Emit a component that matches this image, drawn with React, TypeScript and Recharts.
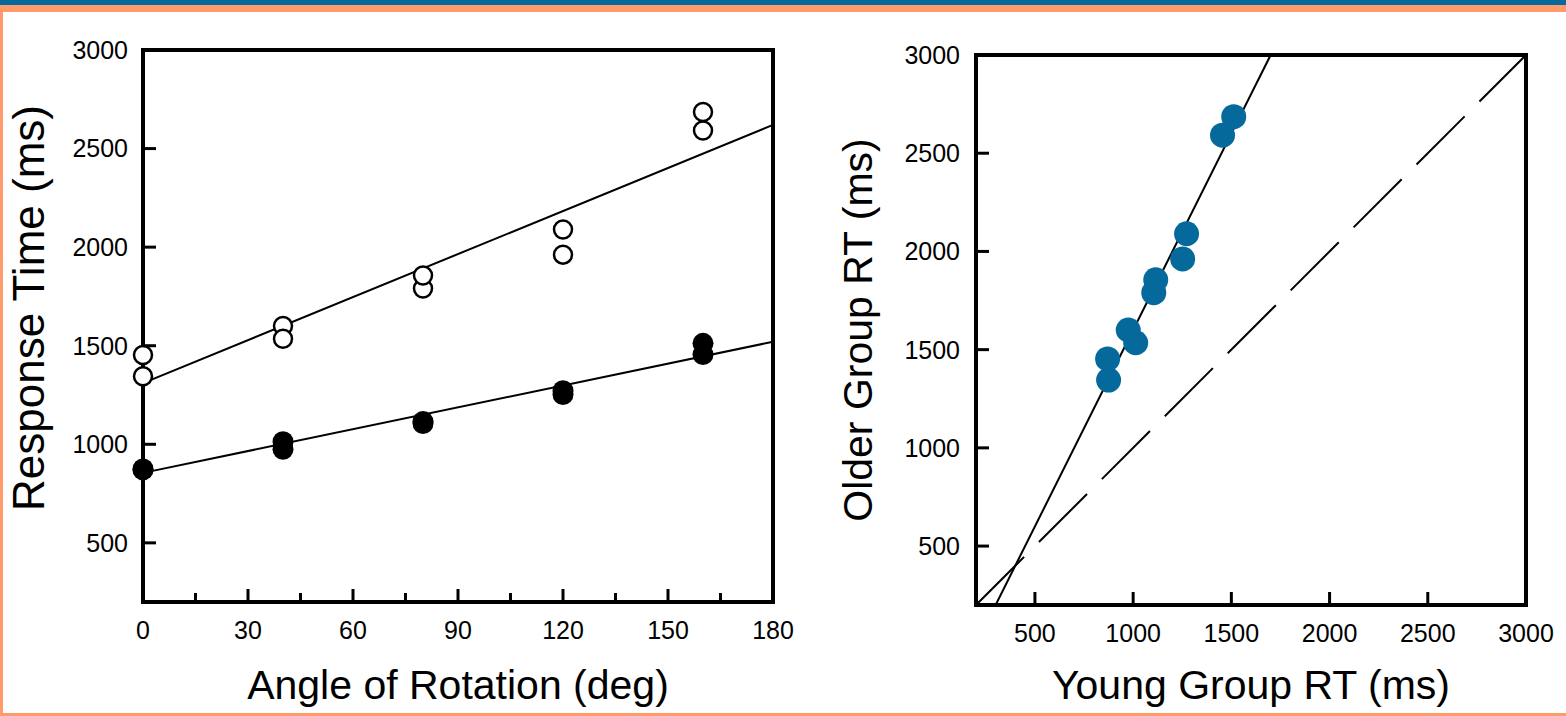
import { ReferenceArea, Scatter, ScatterChart, XAxis, YAxis } from "recharts"

const FONT = "'Liberation Sans', Arial, Helvetica, sans-serif"

// one entry per condition: angle, young mean RT, older mean RT
const angles = [0, 0, 40, 40, 80, 80, 120, 120, 160, 160]
const youngRT = [875, 870, 975, 1013, 1105, 1115, 1252, 1272, 1455, 1512]
const olderRT = [1345, 1453, 1600, 1535, 1790, 1856, 1962, 2090, 2592, 2686]

// fitted lines in the left panel
const fitAngles = [0, 180]
const olderFit = [1310, 2620]
const youngFit = [855, 1520]

// right panel: regression of older on young, and the identity line
const brinleyYoung = [300, 1700]
const brinleyOlder = [200, 3000]
const identity = [200, 3000]

const angleTicks = [0, 15, 30, 45, 60, 75, 90, 105, 120, 135, 150, 165, 180]
const rtTicks = [500, 1000, 1500, 2000, 2500, 3000]
const youngTicks = [500, 1000, 1500, 2000, 2500, 3000]

const zip = (xs: number[], ys: number[]) => xs.map((x, i) => ({ x, y: ys[i] }))

const leftOlder = zip(angles, olderRT)
const leftYoung = zip(angles, youngRT)
const leftOlderFit = zip(fitAngles, olderFit)
const leftYoungFit = zip(fitAngles, youngFit)
const rightPoints = zip(youngRT, olderRT)
const rightFit = zip(brinleyYoung, brinleyOlder)
const rightIdentity = zip(identity, identity)

const BLUE = "#05699c"
const ORANGE = "#ff9a6a"

function BottomTick(props: any) {
  const { x, y, payload, labelEvery } = props
  const v = payload.value
  const major = !labelEvery || v % labelEvery === 0
  return (
    <g>
      <line x1={x} x2={x} y1={y} y2={y - (major ? 13 : 9)} stroke="#000" strokeWidth={3} />
      {major && (
        <text x={x} y={y + 19} dy="0.71em" textAnchor="middle" fontSize={25} fontFamily={FONT} fill="#000">
          {v}
        </text>
      )}
    </g>
  )
}

function LeftTick(props: any) {
  const { x, y, payload, gap } = props
  return (
    <g>
      <line x1={x} x2={x + 13} y1={y} y2={y} stroke="#000" strokeWidth={3} />
      <text x={x - gap} y={y} dy="0.355em" textAnchor="end" fontSize={25} fontFamily={FONT} fill="#000">
        {payload.value}
      </text>
    </g>
  )
}

const xTitle = (text: string, down: number) => (p: any) => {
  const vb = p.viewBox
  return (
    <text x={vb.x + vb.width / 2} y={vb.y + down} textAnchor="middle" fontSize={41} fontFamily={FONT} fill="#000">
      {text}
    </text>
  )
}

const yTitle = (text: string, cx: number, shift: number, size: number) => (p: any) => {
  const vb = p.viewBox
  const x = vb.x + cx
  const y = vb.y + vb.height / 2 + shift
  return (
    <text
      x={x}
      y={y}
      dy="0.355em"
      transform={`rotate(-90, ${x}, ${y})`}
      textAnchor="middle"
      fontSize={size}
      fontFamily={FONT}
      fill="#000"
    >
      {text}
    </text>
  )
}

const openDot = (p: any) => <circle cx={p.cx} cy={p.cy} r={9} fill="#fff" stroke="#000" strokeWidth={2.5} />
const filledDot = (p: any) => <circle cx={p.cx} cy={p.cy} r={10.5} fill="#000" />
const blueDot = (p: any) => <circle cx={p.cx} cy={p.cy} r={12.5} fill={BLUE} />
const noDot = () => <g />

function AngleChart() {
  return (
    <ScatterChart width={800} height={716} margin={{ top: 50, right: 27, bottom: 0, left: 0 }}>
      <XAxis
        type="number"
        dataKey="x"
        domain={[0, 180]}
        ticks={angleTicks}
        interval={0}
        axisLine={false}
        tickLine={false}
        tickSize={0}
        tickMargin={0}
        height={114}
        tick={(p: any) => <BottomTick {...p} labelEvery={30} />}
        label={xTitle("Angle of Rotation (deg)", 97)}
      />
      <YAxis
        type="number"
        dataKey="y"
        domain={[200, 3000]}
        ticks={rtTicks}
        interval={0}
        axisLine={false}
        tickLine={false}
        tickSize={0}
        tickMargin={0}
        width={143}
        tick={(p: any) => <LeftTick {...p} gap={15} />}
        label={yTitle("Response Time (ms)", 28, -18, 44)}
      />
      <ReferenceArea x1={0} x2={180} y1={200} y2={3000} fill="none" stroke="#000" strokeWidth={4} />
      <Scatter data={leftOlderFit} line={{ stroke: "#000", strokeWidth: 2 }} shape={noDot} isAnimationActive={false} />
      <Scatter data={leftYoungFit} line={{ stroke: "#000", strokeWidth: 2 }} shape={noDot} isAnimationActive={false} />
      <Scatter data={leftOlder} shape={openDot} isAnimationActive={false} />
      <Scatter data={leftYoung} shape={filledDot} isAnimationActive={false} />
    </ScatterChart>
  )
}

function BrinleyChart() {
  return (
    <ScatterChart width={766} height={716} margin={{ top: 55, right: 40, bottom: 0, left: 0 }}>
      <XAxis
        type="number"
        dataKey="x"
        domain={[200, 3000]}
        ticks={youngTicks}
        interval={0}
        axisLine={false}
        tickLine={false}
        tickSize={0}
        tickMargin={0}
        height={111}
        tick={(p: any) => <BottomTick {...p} />}
        label={xTitle("Young Group RT (ms)", 94)}
      />
      <YAxis
        type="number"
        dataKey="y"
        domain={[200, 3000]}
        ticks={rtTicks}
        interval={0}
        axisLine={false}
        tickLine={false}
        tickSize={0}
        tickMargin={0}
        width={176}
        tick={(p: any) => <LeftTick {...p} gap={16} />}
        label={yTitle("Older Group RT (ms)", 57, 0, 41)}
      />
      <ReferenceArea x1={200} x2={3000} y1={200} y2={3000} fill="none" stroke="#000" strokeWidth={4} />
      <Scatter
        data={rightIdentity}
        line={{ stroke: "#000", strokeWidth: 2, strokeDasharray: "68 21" }}
        shape={noDot}
        isAnimationActive={false}
      />
      <Scatter data={rightFit} line={{ stroke: "#000", strokeWidth: 2 }} shape={noDot} isAnimationActive={false} />
      <Scatter data={rightPoints} shape={blueDot} isAnimationActive={false} />
    </ScatterChart>
  )
}

export default function App() {
  return (
    <div
      style={{
        position: "fixed",
        left: 0,
        top: 0,
        width: 1566,
        height: 716,
        background: "#fff",
        overflow: "hidden",
      }}
    >
      <div style={{ position: "absolute", left: 0, top: 0, width: 1566, height: 5, background: BLUE }} />
      <div style={{ position: "absolute", left: 0, top: 5, width: 1566, height: 7, background: ORANGE }} />
      <div style={{ position: "absolute", left: 0, top: 5, width: 3, height: 711, background: ORANGE }} />
      <div style={{ position: "absolute", left: 0, top: 713, width: 1566, height: 3, background: ORANGE }} />
      <div style={{ position: "absolute", left: 0, top: 0 }}>
        <AngleChart />
      </div>
      <div style={{ position: "absolute", left: 800, top: 0 }}>
        <BrinleyChart />
      </div>
    </div>
  )
}
